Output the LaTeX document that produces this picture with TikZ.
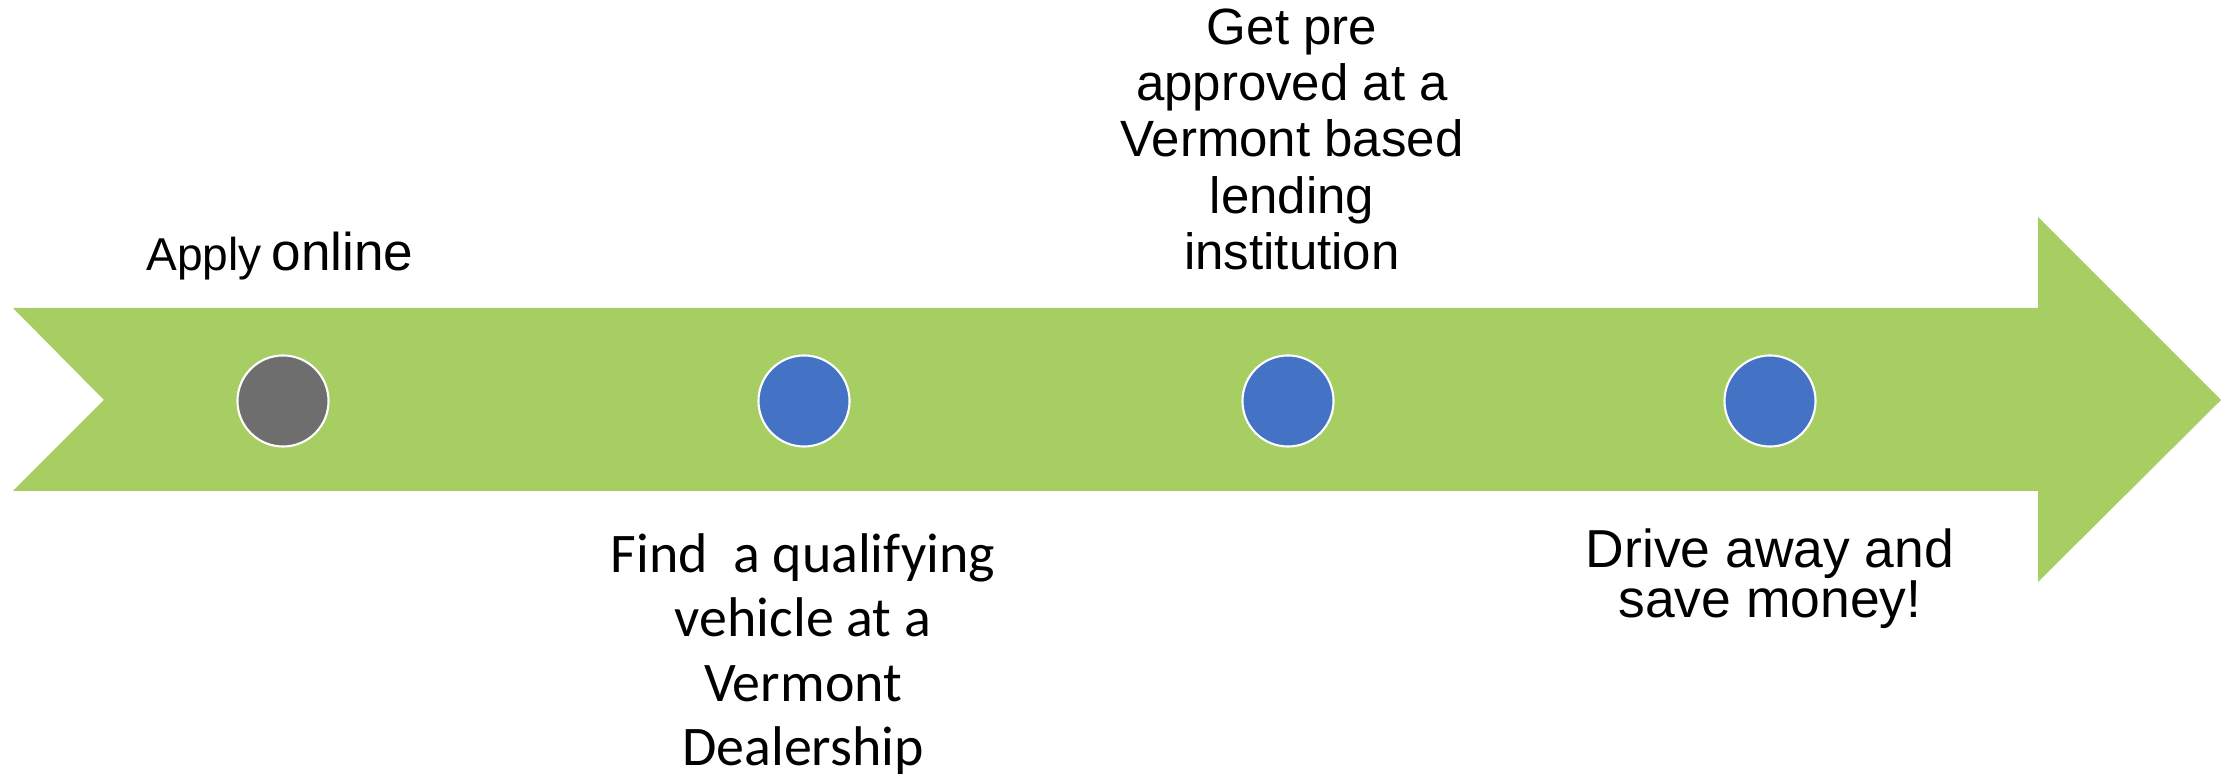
\documentclass[tikz,border=0pt]{standalone}
\usepackage{fontspec}
\setmainfont{Liberation Sans}
\newfontfamily\calibrifont{Carlito}
\usepackage{xcolor}
\usetikzlibrary{positioning}

\definecolor{arrowgreen}{HTML}{A6CE62}
\definecolor{dotgray}{HTML}{6E6E6E}
\definecolor{dotblue}{HTML}{4472C4}

\tikzset{
	dot/.style={circle, draw=white, line width=0.6pt, minimum size=0.91cm, inner sep=0},
	steptext/.style={align=center, inner sep=0, font=\fontsize{14.5}{16}\selectfont},
	stepcalibri/.style={align=center, inner sep=0, font=\calibrifont\fontsize{15.9}{18.3}\selectfont}
}

\begin{document}
\begin{tikzpicture}[x=0.01cm, y=-0.01cm]
		\useasboundingbox (0,0) rectangle (2236,777);

		% the green timeline arrow
		\fill[arrowgreen]
			(13,308) -- (2038,308) -- (2038,217) -- (2221,400)
			-- (2038,582) -- (2038,491) -- (13,491) -- (104,400) -- cycle;

		% steps
		\node[dot, fill=dotgray] (apply) at (283,401) {};
		\node[dot, fill=dotblue] (find) at (804,401) {};
		\node[dot, fill=dotblue] (approve) at (1288,401) {};
		\node[dot, fill=dotblue] (drive) at (1770,401) {};

		% labels
		\node[anchor=base, inner sep=0] (applytext) at (280,271)
			{{\fontsize{13.1}{15}\selectfont Apply} {\fontsize{15.1}{17}\selectfont online}};
		\node[steptext, anchor=north] (approvetext) at (1292,8)
			{Get pre\\approved at a\\Vermont based\\lending\\institution};
		\node[stepcalibri, anchor=north] (findtext) at (803,533)
			{Find\ \ a qualifying\\vehicle at a\\Vermont\\Dealership};
		\node[steptext, anchor=north, font=\fontsize{15.2}{14.2}\selectfont] (drivetext) at (1770,528)
			{Drive away and\\save money!};
\end{tikzpicture}
\end{document}
